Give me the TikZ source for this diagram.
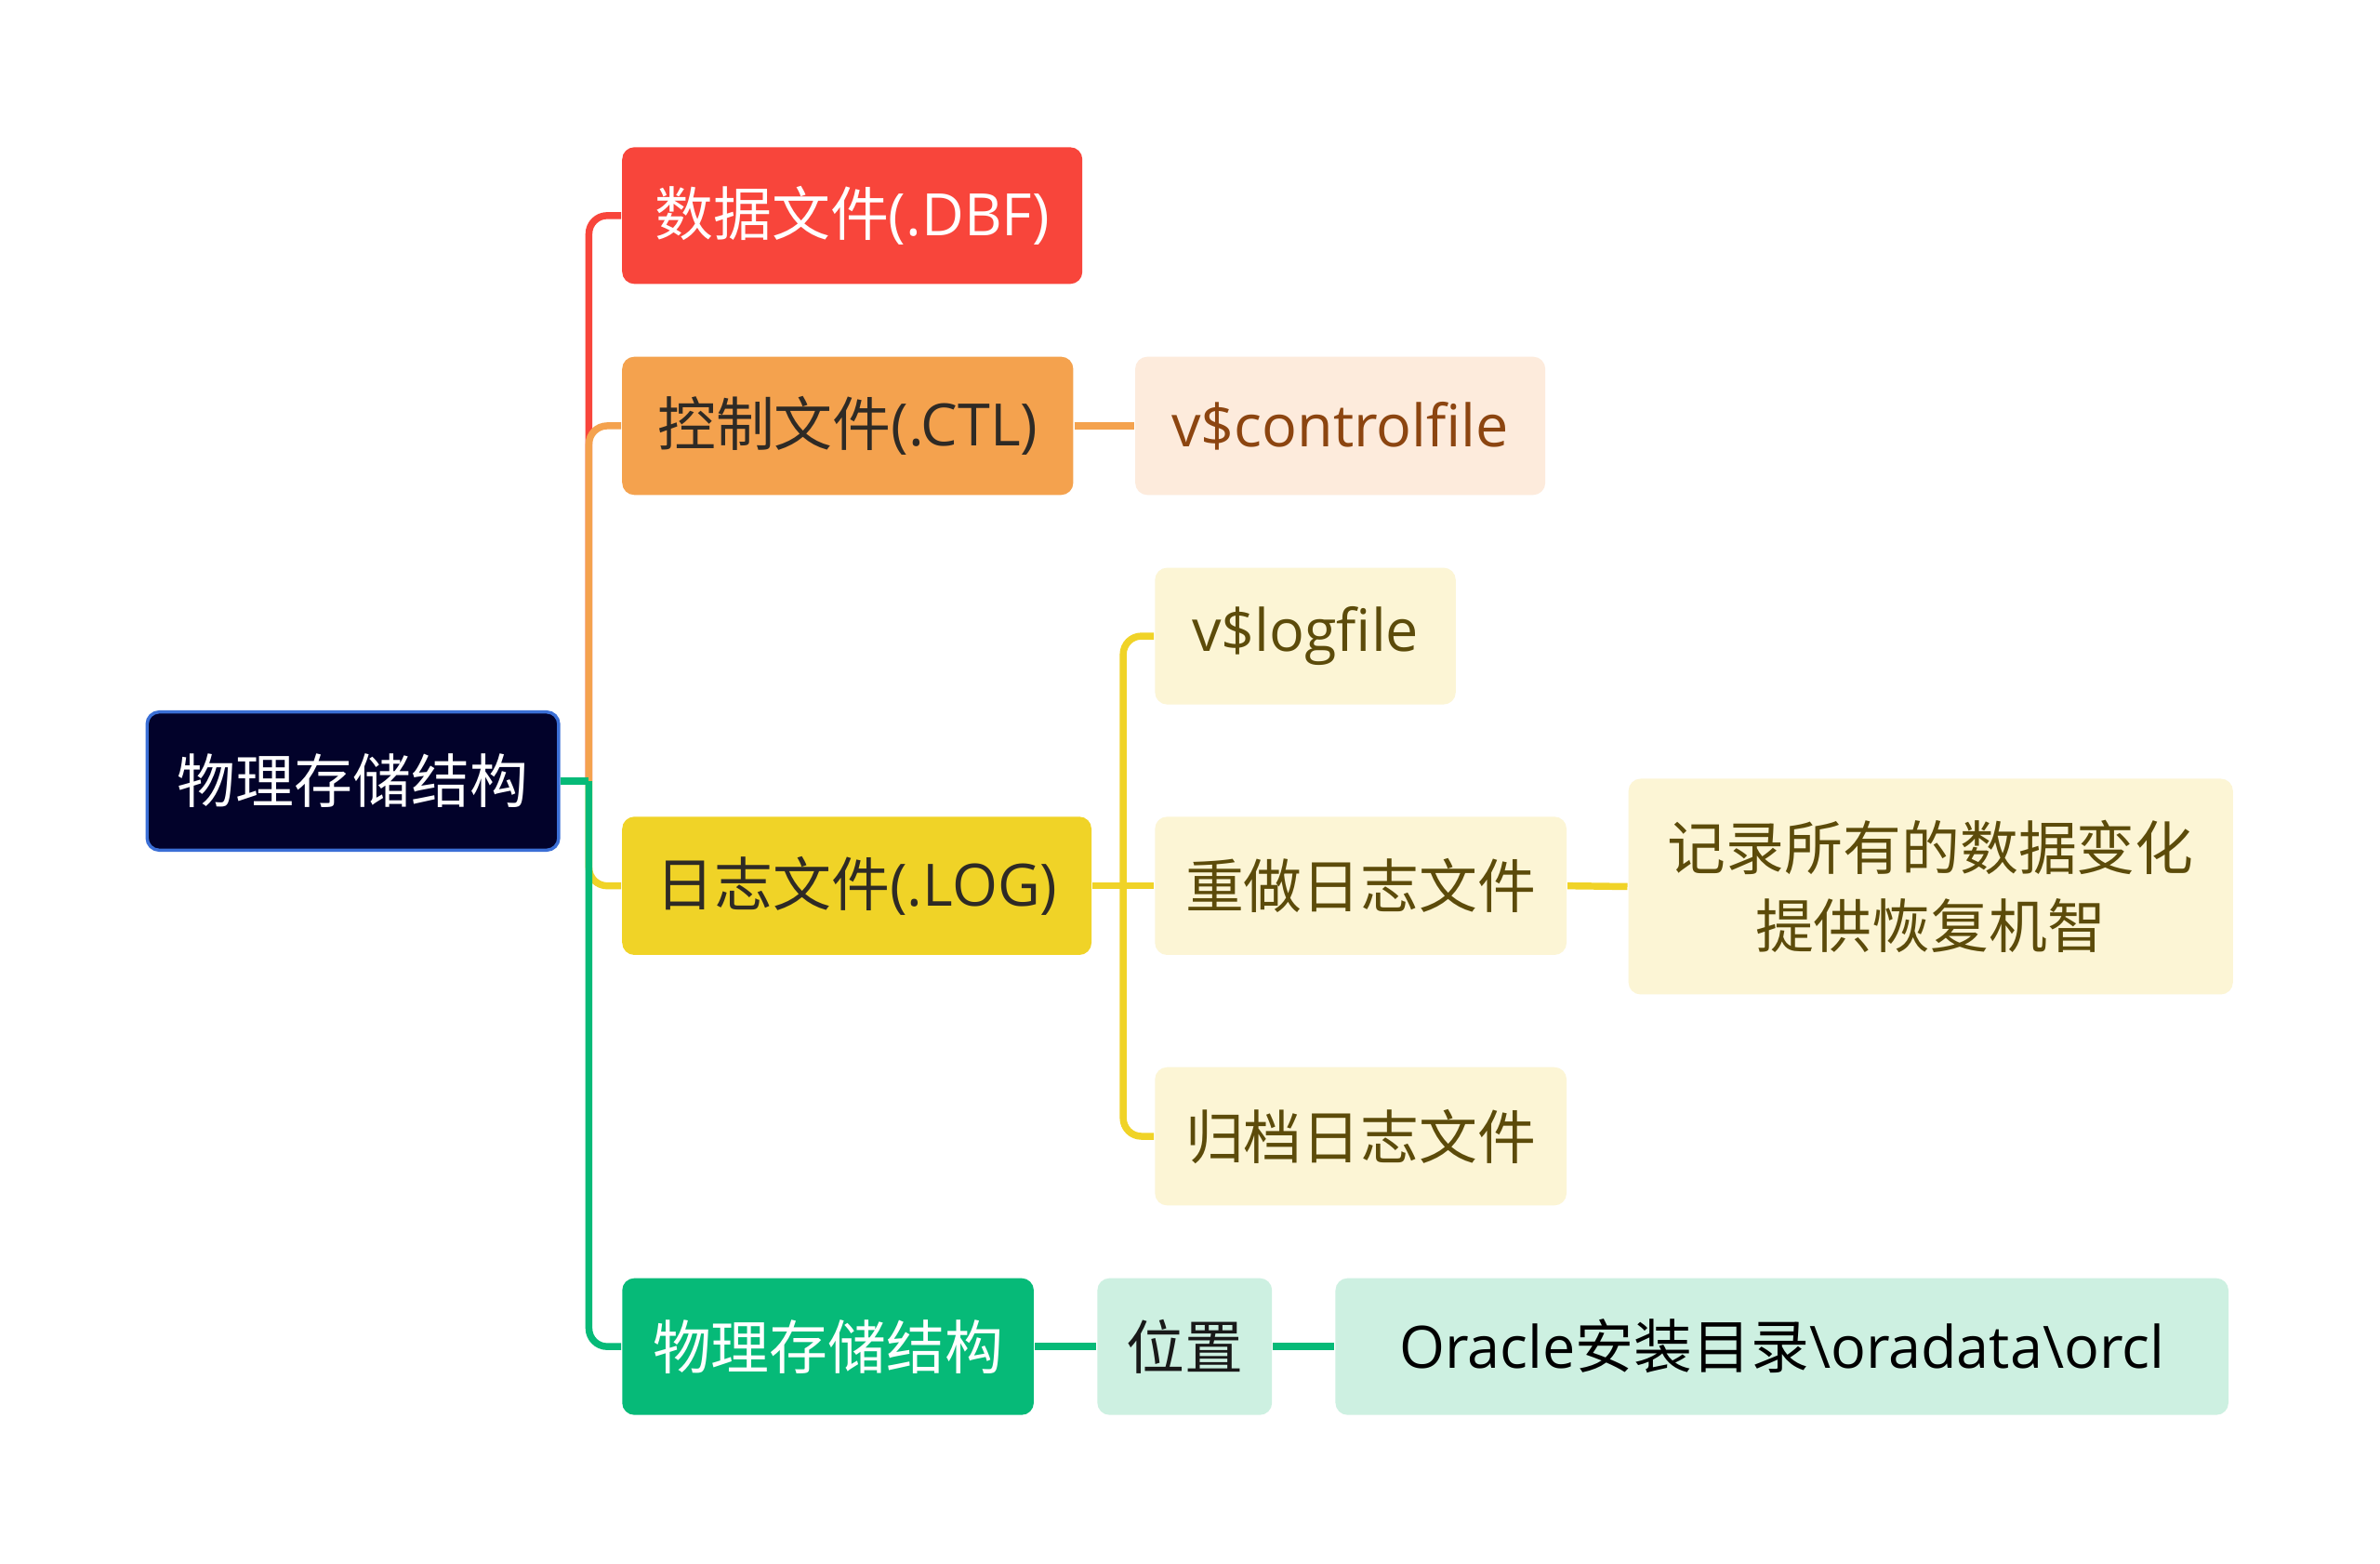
\documentclass[tikz,border=0pt]{standalone}
\usepackage{fontspec}
\setmainfont{Open Sans}
\newfontfamily\cjk{Noto Sans CJK SC}
\definecolor{cred}{HTML}{F8453B}
\definecolor{corange}{HTML}{F4A24E}
\definecolor{cpeach}{HTML}{FDEBDC}
\definecolor{cyellow}{HTML}{F0D327}
\definecolor{clyellow}{HTML}{FCF5D5}
\definecolor{cgreen}{HTML}{06BA78}
\definecolor{clgreen}{HTML}{CDF0E1}
\definecolor{cnavy}{HTML}{02022A}
\definecolor{cblue}{HTML}{3B6FD6}
\definecolor{tbrown}{HTML}{8C4510}
\definecolor{tolive}{HTML}{5C4B0A}
\definecolor{tdark}{HTML}{2E2A25}
\tikzset{
  box/.style={rectangle, rounded corners=0.08cm, inner sep=0pt, align=center,
    font=\fontsize{10.95}{14.5}\selectfont},
  conn/.style={line width=1.3pt, rounded corners=0.12cm},
}
\begin{document}
\begin{tikzpicture}[x=0.01cm,y=-0.01cm]
\path[use as bounding box, fill=white] (0,0) rectangle (1568,1030);
% nodes
\node[box, fill=cnavy, draw=cblue, line width=0.6pt, text=white, minimum width=2.71cm, minimum height=0.91cm] (root) at (232.5,514.5) {{\cjk 物理存储结构}};
\node[box, fill=cred, text=white, minimum width=3.03cm, minimum height=0.90cm] (dbf) at (561.5,142) {{\cjk 数据文件}(.DBF)};
\node[box, fill=corange, text=tdark, minimum width=2.97cm, minimum height=0.91cm] (ctl) at (558.5,280.5) {{\cjk 控制文件}(.CTL)};
\node[box, fill=cpeach, text=tbrown, minimum width=2.70cm, minimum height=0.91cm] (vctl) at (883,280.5) {v\$controlfile};
\node[box, fill=clyellow, text=tolive, minimum width=1.98cm, minimum height=0.90cm] (vlog) at (860,419) {\raisebox{-1pt}{v\$logfile}};
\node[box, fill=cyellow, text=tdark, minimum width=3.09cm, minimum height=0.91cm] (log) at (564.5,583.5) {{\cjk 日志文件}(.LOG)};
\node[box, fill=clyellow, text=tolive, minimum width=2.71cm, minimum height=0.91cm] (redo) at (896.5,583.5) {{\cjk 重做日志文件}};
\node[box, fill=clyellow, text=tolive, minimum width=3.98cm, minimum height=1.42cm] (rec) at (1272,584) {{\cjk 记录所有的数据变化}\\{\cjk 提供恢复机智}};
\node[box, fill=clyellow, text=tolive, minimum width=2.71cm, minimum height=0.91cm] (arch) at (896.5,748.5) {{\cjk 归档日志文件}};
\node[box, fill=cgreen, text=white, minimum width=2.71cm, minimum height=0.90cm] (phys) at (545.5,887) {{\cjk 物理存储结构}};
\node[box, fill=clgreen, text=black!90, minimum width=1.15cm, minimum height=0.90cm] (pos) at (780.5,887) {{\cjk 位置}};
\node[box, fill=clgreen, text=black, minimum width=5.88cm, minimum height=0.90cm] (ora) at (1174,887) {Oracle{\cjk 安装目录}\textbackslash oradata\textbackslash orcl};
% junctions
\coordinate (j1) at (388,514.5);
\coordinate (j2) at (740,583.5);
% main branches
\draw[conn, cred] (j1) |- (dbf.west);
\draw[conn, corange] (j1) |- (ctl.west);
\draw[conn, cyellow] (j1) |- (log.west);
\draw[conn, cgreen] (j1) |- (phys.west);
\draw[conn, cgreen] (root.east) -- (j1);
% sub branches
\draw[conn, corange] (ctl.east) -- (vctl.west);
\draw[conn, cyellow] (log.east) -- (j2);
\draw[conn, cyellow] (j2) |- (vlog.west);
\draw[conn, cyellow] (j2) |- (arch.west);
\draw[conn, cyellow] (j2) -- (redo.west);
\draw[conn, cyellow] (redo.east) -- (rec.west);
\draw[conn, cgreen] (phys.east) -- (pos.west);
\draw[conn, cgreen] (pos.east) -- (ora.west);
\end{tikzpicture}
\end{document}
